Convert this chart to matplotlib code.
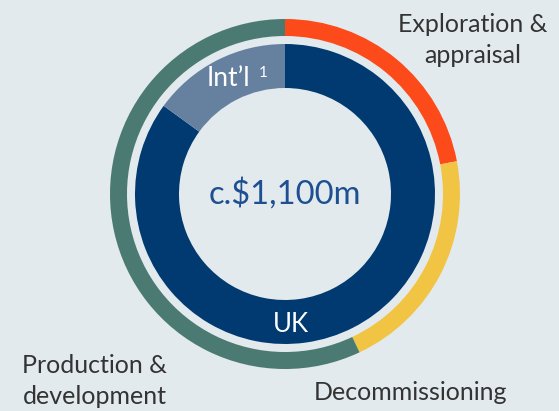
import matplotlib

matplotlib.use("Agg")
import matplotlib.pyplot as plt

# outer ring: spend by activity (share, %)
activities = ["Exploration &\nappraisal", "Decommissioning", "Production &\ndevelopment"]
activity_share = [22, 21, 57]
activity_colors = ["#fc4a1a", "#f1c443", "#4b7a72"]

# inner ring: spend by region (share, %)
regions = ["UK", "Int\u2019l"]
region_share = [85, 15]
region_colors = ["#003a70", "#6681a0"]

total_label = "c.$1,100m"

BG = "#e3eaee"
plt.rcParams["font.family"] = ["Lato", "DejaVu Sans"]

fig = plt.figure(figsize=(5.59, 4.11), dpi=100, facecolor=BG)
ax = fig.add_axes([0, 0, 1, 1])
ax.set_facecolor(BG)

cx, cy = 285, 217
ax.pie(activity_share, colors=activity_colors, startangle=90, counterclock=False,
       radius=175, center=(cx, cy), wedgeprops=dict(width=17, linewidth=0))
ax.pie(region_share, colors=region_colors, startangle=90, counterclock=False,
       radius=150, center=(cx, cy), wedgeprops=dict(width=44, linewidth=0))
ax.set_xlim(0, 559)
ax.set_ylim(0, 411)
ax.set_aspect("equal")
ax.axis("off")

ax.text(cx, cy, total_label, ha="center", va="center", fontsize=23.5, color="#1d4f91")
ax.text(291, 87, regions[0], ha="center", va="center", fontsize=18.5, color="white")
ax.text(228, 333, regions[1], ha="center", va="center", fontsize=19, color="white")
ax.text(263, 338, "1", ha="center", va="center", fontsize=11, color="white")

lab = dict(ha="center", va="center", fontsize=18, color="#333333", linespacing=1.4)
ax.text(473, 371, activities[0], **lab)
ax.text(411, 19, activities[1], **lab)
ax.text(95, 30, activities[2], **lab)

fig.savefig("out.png", dpi=100, facecolor=BG)
